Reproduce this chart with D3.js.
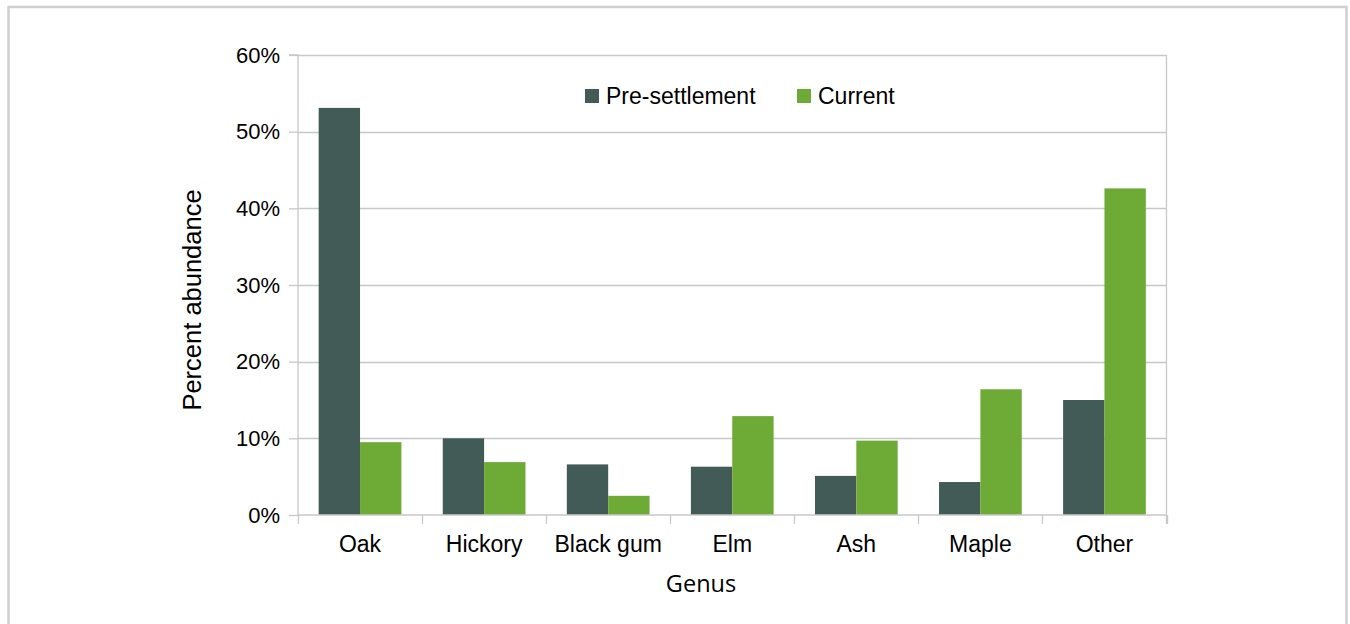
<!DOCTYPE html>
<html>
<head>
<meta charset="utf-8">
<script src="https://cdn.jsdelivr.net/npm/d3@7"></script>
<style>
  html, body { margin: 0; padding: 0; background: #fff; }
  svg { display: block; }
</style>
</head>
<body>
<svg id="chart" width="1350" height="624"></svg>
<script>
// Tree genus abundance, pre-settlement vs current (percent)
const genera = ["Oak", "Hickory", "Black gum", "Elm", "Ash", "Maple", "Other"];
const seriesNames = ["Pre-settlement", "Current"];
const preSettlement = [53.1, 10.0, 6.6, 6.3, 5.1, 4.3, 15.0];
const current = [9.5, 6.9, 2.5, 12.9, 9.7, 16.4, 42.6];
const yTicks = [0, 10, 20, 30, 40, 50, 60];
const colors = ["#425b56", "#6daa36"];

const svg = d3.select("#chart");
const sansFont = "'Liberation Sans', Arial, sans-serif";

// outer frame
svg.append("rect")
  .attr("x", 8.5).attr("y", 7)
  .attr("width", 1338).attr("height", 640)
  .attr("fill", "#fff")
  .attr("stroke", "#cfcfcf")
  .attr("stroke-width", 2.5);

const plot = { left: 298, right: 1166.5, top: 55, bottom: 515 };

const x = d3.scaleBand()
  .domain(genera)
  .range([plot.left, plot.right])
  .paddingInner(0).paddingOuter(0);

const y = d3.scaleLinear()
  .domain([0, 60])
  .range([plot.bottom, plot.top]);

// two bars per category, taking the middle two thirds of the band
const xSub = d3.scaleBand()
  .domain(seriesNames)
  .range([x.bandwidth() / 6, x.bandwidth() * 5 / 6]);

const gridColor = "#c8c8c8";

// horizontal gridlines
svg.append("g")
  .selectAll("line")
  .data(yTicks.filter(d => d > 0))
  .join("line")
  .attr("x1", plot.left).attr("x2", plot.right)
  .attr("y1", d => Math.round(y(d)) + 0.5).attr("y2", d => Math.round(y(d)) + 0.5)
  .attr("stroke", gridColor).attr("stroke-width", 1.3);

// right edge of the plot area
svg.append("line")
  .attr("x1", plot.right).attr("x2", plot.right)
  .attr("y1", plot.top).attr("y2", plot.bottom + 9)
  .attr("stroke", gridColor).attr("stroke-width", 1.3);

// y axis
const yAxis = d3.axisLeft(y)
  .tickValues(yTicks)
  .tickFormat(d => d + "%")
  .tickSize(9)
  .tickPadding(9);

const gy = svg.append("g")
  .attr("transform", `translate(${plot.left},0)`)
  .call(yAxis);
gy.select(".domain").attr("stroke", gridColor).attr("stroke-width", 1.3)
  .attr("d", `M-9,${plot.top}H0V${plot.bottom}`);
gy.selectAll(".tick line").attr("stroke", gridColor).attr("stroke-width", 1.3);
gy.selectAll(".tick text")
  .attr("fill", "#000")
  .style("font-family", sansFont)
  .style("font-size", "22px");

// bars
const groups = svg.append("g")
  .selectAll("g")
  .data(genera.map((g, i) => ({ genus: g, values: [preSettlement[i], current[i]] })))
  .join("g")
  .attr("transform", d => `translate(${x(d.genus)},0)`);

groups.selectAll("rect")
  .data(d => d.values.map((v, j) => ({ series: seriesNames[j], value: v, idx: j })))
  .join("rect")
  .attr("x", d => xSub(d.series))
  .attr("width", xSub.bandwidth())
  .attr("y", d => y(d.value))
  .attr("height", d => y(0) - y(d.value))
  .attr("fill", d => colors[d.idx]);

// x axis
const xAxis = d3.axisBottom(x).tickSize(0).tickPadding(21);
const gx = svg.append("g")
  .attr("transform", `translate(0,${plot.bottom})`)
  .call(xAxis);
gx.select(".domain").attr("stroke", gridColor).attr("stroke-width", 1.5)
  .attr("d", `M${plot.left},0H${plot.right}`);
gx.selectAll(".tick text")
  .attr("fill", "#000")
  .style("font-family", sansFont)
  .style("font-size", "23px");

// category separators below the axis
const bounds = genera.map(g => x(g)).concat([plot.right]);
svg.append("g")
  .selectAll("line")
  .data(bounds)
  .join("line")
  .attr("x1", d => Math.round(d) + 0.5).attr("x2", d => Math.round(d) + 0.5)
  .attr("y1", plot.bottom).attr("y2", plot.bottom + 9)
  .attr("stroke", gridColor).attr("stroke-width", 1.3);

// axis titles
svg.append("text")
  .attr("x", 701)
  .attr("y", 592)
  .attr("text-anchor", "middle")
  .style("font-family", "'Open Sans', 'Noto Sans', sans-serif")
  .style("font-size", "23.5px")
  .attr("fill", "#000")
  .text("Genus");

svg.append("text")
  .attr("transform", `translate(201,300) rotate(-90)`)
  .attr("text-anchor", "middle")
  .style("font-family", sansFont)
  .style("font-size", "25.5px")
  .attr("fill", "#000")
  .text("Percent abundance");

// legend
const legendItems = [
  { name: seriesNames[0], color: colors[0], x: 585 },
  { name: seriesNames[1], color: colors[1], x: 797 }
];
const lg = svg.append("g")
  .selectAll("g")
  .data(legendItems)
  .join("g")
  .attr("transform", d => `translate(${d.x},89)`);
lg.append("rect")
  .attr("width", 14).attr("height", 14)
  .attr("fill", d => d.color);
lg.append("text")
  .attr("x", 21).attr("y", 14.5)
  .style("font-family", sansFont)
  .style("font-size", "23px")
  .attr("fill", "#000")
  .text(d => d.name);
</script>
</body>
</html>
